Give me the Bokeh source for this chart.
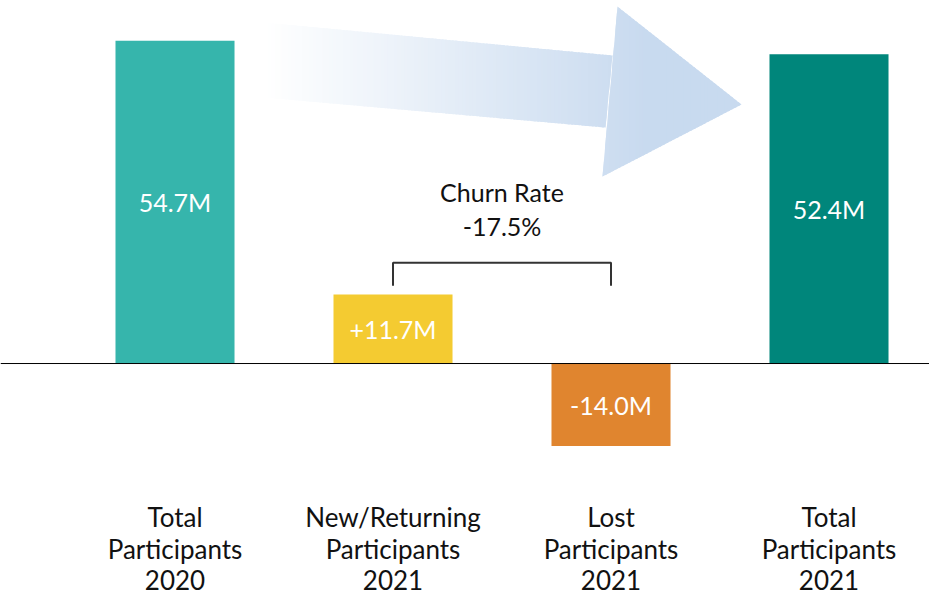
from bokeh.plotting import figure
from bokeh.models import Range1d, Span, ColumnDataSource
from bokeh.core.properties import value
from bokeh.embed import file_html
from bokeh.resources import INLINE

# ---- data ----
categories = ["Total\nParticipants\n2020", "New/Returning\nParticipants\n2021",
              "Lost\nParticipants\n2021", "Total\nParticipants\n2021"]
values = [54.7, 11.7, -14.0, 52.4]
value_labels = ["54.7M", "+11.7M", "-14.0M", "52.4M"]
bar_colors = ["#36B5AC", "#F4CB31", "#E0852F", "#00867B"]
churn_text = "Churn Rate\n-17.5%"

FONT = "Lato"

p = figure(width=929, height=595, output_backend="svg", toolbar_location=None,
           x_range=Range1d(-0.8005, 3.461), y_range=Range1d(-39.32, 61.53),
           min_border=0, outline_line_color=None)
p.axis.visible = False
p.grid.visible = False
p.background_fill_color = "white"
p.border_fill_color = "white"

# ---- gradient arrow (decoration) ----
shaft = [(0.4105, 57.8), (2.0068, 52.2), (1.9747, 40.0), (0.4105, 45.08)]
head = [(2.0298, 60.5), (2.5986, 43.9), (1.961, 31.69)]

def clip(poly, a, b):
    def clip_edge(pts, keep, inter):
        out = []
        n = len(pts)
        for i in range(n):
            cur, prev = pts[i], pts[i - 1]
            if keep(cur):
                if not keep(prev):
                    out.append(inter(prev, cur))
                out.append(cur)
            elif keep(prev):
                out.append(inter(prev, cur))
        return out
    def ix(xv):
        def f(p1, p2):
            t = (xv - p1[0]) / (p2[0] - p1[0])
            return (xv, p1[1] + t * (p2[1] - p1[1]))
        return f
    pts = clip_edge(poly, lambda q: q[0] >= a, ix(a))
    if not pts:
        return []
    pts = clip_edge(pts, lambda q: q[0] <= b, ix(b))
    return pts

x0, x1 = 0.4105, 2.5986
n = 140
c0 = (255, 255, 255)
c1 = (200, 218, 239)
xs_list, ys_list, cols = [], [], []
w = (x1 - x0) / n
for i in range(n):
    a = x0 + i * w
    b = a + w * 1.6
    t = min(1.0, (i + 0.5) / (n * 0.8))
    col = "#%02x%02x%02x" % tuple(int(round(c0[k] + (c1[k] - c0[k]) * t)) for k in range(3))
    for poly in (shaft, head):
        pts = clip(poly, a, b)
        if len(pts) >= 3:
            xs_list.append([q[0] for q in pts])
            ys_list.append([q[1] for q in pts])
            cols.append(col)
p.patches(xs_list, ys_list, fill_color=cols, line_color=None)

# ---- bars ----
idx = list(range(len(values)))
src = ColumnDataSource(dict(x=idx, top=values, color=bar_colors,
                            label=value_labels, ly=[v / 2 for v in values],
                            cat=categories))
p.vbar(x="x", top="top", bottom=0, width=0.546, fill_color="color",
       line_color=None, source=src)

p.add_layout(Span(location=0, dimension="width", line_color="black", line_width=1))

p.text(x="x", y="ly", text="label", source=src, text_color="white",
       text_font=value(FONT), text_font_size="25px", text_align="center",
       text_baseline="middle")

# category labels
p.text(x="x", y=-31.36, text="cat", source=src, text_color="#111111",
       text_font=value(FONT), text_font_size="26px", text_align="center",
       text_baseline="middle", text_line_height=0.98)

# churn bracket
p.line(x=[1, 1, 2, 2], y=[13.2, 17.1, 17.1, 13.2], line_color="#333333", line_width=2)
p.text(x=[1.5], y=[26.19], text=[churn_text], text_color="#111111",
       text_font=value(FONT), text_font_size="25px", text_align="center",
       text_baseline="middle", text_line_height=1.13)

open("out.html", "w").write(file_html(p, INLINE))
